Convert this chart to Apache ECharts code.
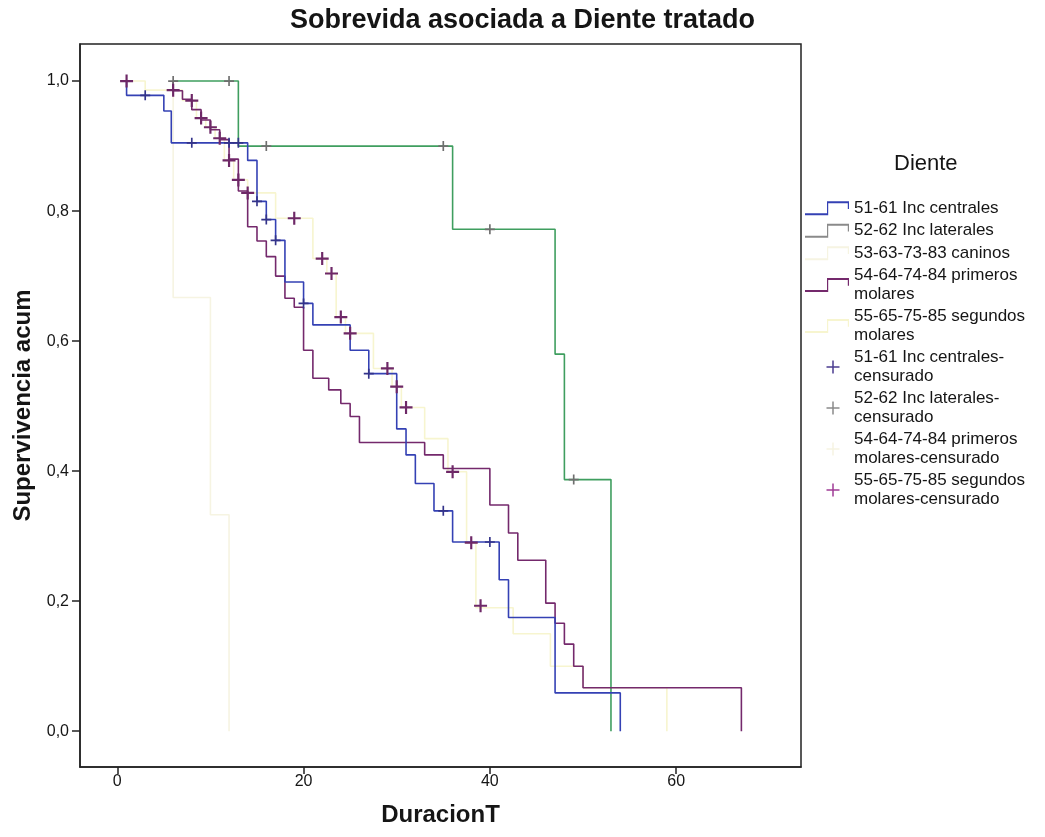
<!DOCTYPE html>
<html><head><meta charset="utf-8">
<script src="https://cdn.jsdelivr.net/npm/echarts@6/dist/echarts.min.js"></script>
<style>html,body{margin:0;padding:0;background:#fff}#c{width:1045px;height:837px}</style>
</head><body><div id="c"></div>
<script>
// ---- tick labels ----
const xTicks = [0, 20, 40, 60];
const yTicks = [0, 0.2, 0.4, 0.6, 0.8, 1.0];

// ---- 51-61 Inc centrales ----
const centralesTime = [1, 1, 5, 5.8, 14, 15, 16, 17, 18, 20, 21, 25, 27, 30, 31, 32, 34, 36, 41, 42, 47, 54];
const centralesSurv = [1.0, 0.978, 0.954, 0.905, 0.878, 0.815, 0.787, 0.755, 0.691, 0.658, 0.625, 0.586, 0.55, 0.465, 0.425, 0.381, 0.339, 0.291, 0.233, 0.175, 0.059, 0];
const centralesCensTime = [3, 8, 12, 13, 15, 16, 17, 20, 27, 35, 40];
const centralesCensSurv = [0.978, 0.905, 0.905, 0.905, 0.815, 0.787, 0.755, 0.658, 0.55, 0.339, 0.291];

// ---- 52-62 Inc laterales ----
const lateralesTime = [6, 13, 36, 47, 48, 53];
const lateralesSurv = [1.0, 0.9, 0.772, 0.58, 0.387, 0];
const lateralesCensTime = [6, 12, 16, 35, 40, 49];
const lateralesCensSurv = [1.0, 1.0, 0.9, 0.9, 0.772, 0.387];

// ---- 53-63-73-83 caninos ----
const caninosTime = [6, 6, 10, 12];
const caninosSurv = [1.0, 0.667, 0.333, 0];

// ---- 54-64-74-84 primeros molares ----
const primerosTime = [6, 6, 7, 8, 9, 10, 11, 12, 13, 14, 15, 16, 17, 18, 19, 20, 21, 22.7, 24, 25, 26, 33, 35, 40, 42, 43, 46, 47, 48, 49, 50, 67];
const primerosSurv = [1.0, 0.985, 0.972, 0.956, 0.94, 0.925, 0.91, 0.88, 0.831, 0.776, 0.754, 0.73, 0.70, 0.666, 0.652, 0.586, 0.543, 0.525, 0.504, 0.484, 0.444, 0.425, 0.404, 0.348, 0.305, 0.263, 0.197, 0.166, 0.134, 0.10, 0.067, 0];
const primerosCensTime = [];
const primerosCensSurv = [];

// ---- 55-65-75-85 segundos molares ----
const segundosTime = [1, 3, 7, 8.5, 9.5, 10.5, 11.5, 12.5, 14, 17, 21, 22.5, 23.5, 24.5, 27.5, 29.5, 30.5, 33, 35.5, 37.5, 38.5, 42.5, 46.5, 50, 59];
const segundosSurv = [1.0, 0.986, 0.970, 0.943, 0.929, 0.912, 0.878, 0.848, 0.828, 0.789, 0.727, 0.704, 0.637, 0.612, 0.558, 0.53, 0.498, 0.45, 0.399, 0.29, 0.19, 0.15, 0.1, 0.067, 0];
const segundosCensTime = [1, 6, 8, 9, 10, 11, 12, 13, 14, 19, 22, 23, 24, 25, 29, 30, 31, 36, 38, 39];
const segundosCensSurv = [1.0, 0.986, 0.970, 0.943, 0.929, 0.912, 0.878, 0.848, 0.828, 0.789, 0.727, 0.704, 0.637, 0.612, 0.558, 0.53, 0.498, 0.399, 0.29, 0.193];

const zip = (a, b) => a.map((v, i) => [v, b[i]]);
const FONT = '"Liberation Sans", Arial, Helvetica, sans-serif';
const PLUS = 'path://M0,5H12V7H0ZM5,0H7V12H5Z';
const STEP_ICON = 'path://M0,9.4H22V2.4H44V7H42.8V3.6H23.2V10.6H0Z';
const PLUS_ICON = 'path://M0,0M44,14M21.5,6.25H34.5V7.75H21.5ZM27.25,0.5H28.75V13.5H27.25Z';

const C_BLUE = '#3441b4', C_GREEN = '#3f9e5f', C_BEIGE = '#f6f4e2', C_PURPLE = '#74296c', C_YELLOW = '#f7f5cf';
const TXT = '#151515';

const names = {
  cen: '51-61 Inc centrales',
  lat: '52-62 Inc laterales',
  can: '53-63-73-83 caninos',
  pri: '54-64-74-84 primeros\nmolares',
  seg: '55-65-75-85 segundos\nmolares',
  cenC: '51-61 Inc centrales-\ncensurado',
  latC: '52-62 Inc laterales-\ncensurado',
  priC: '54-64-74-84 primeros\nmolares-censurado',
  segC: '55-65-75-85 segundos\nmolares-censurado'
};

function lineSeries(name, t, s, color, z) {
  return { name, type: 'line', step: 'end', showSymbol: false, symbol: 'none',
    data: zip(t, s), lineStyle: { color, width: 1.6 }, itemStyle: { color }, z, animation: false };
}
function censSeries(name, t, s, color, size) {
  return { name, type: 'scatter', symbol: PLUS, symbolSize: size,
    data: zip(t, s), itemStyle: { color, opacity: 1 }, z: 10, animation: false };
}

const chart = echarts.init(document.getElementById('c'), null, { renderer: 'canvas' });
chart.setOption({
  animation: false,
  backgroundColor: '#fff',
  title: { text: 'Sobrevida asociada a Diente tratado', left: 'center', top: 2,
    textStyle: { fontSize: 27, fontWeight: 'bold', color: TXT, fontFamily: FONT } },
  graphic: [{ type: 'text', left: 894, top: 153,
    style: { text: 'Diente', fontSize: 22, fill: TXT, fontFamily: FONT } }],
  legend: {
    orient: 'vertical', left: 800, top: 194, itemWidth: 44, itemHeight: 14, itemGap: 4,
    symbolKeepAspect: false,
    textStyle: { fontSize: 17, lineHeight: 18.5, color: TXT, fontFamily: FONT },
    data: [
      { name: names.cen, icon: STEP_ICON, itemStyle: { color: C_BLUE } },
      { name: names.lat, icon: STEP_ICON, itemStyle: { color: '#8a8a8a' } },
      { name: names.can, icon: STEP_ICON, itemStyle: { color: C_BEIGE } },
      { name: names.pri, icon: STEP_ICON, itemStyle: { color: C_PURPLE } },
      { name: names.seg, icon: STEP_ICON, itemStyle: { color: C_YELLOW } },
      { name: names.cenC, icon: PLUS_ICON, itemStyle: { color: '#4b3d90', opacity: 1 } },
      { name: names.latC, icon: PLUS_ICON, itemStyle: { color: '#8a8a8a', opacity: 1 } },
      { name: names.priC, icon: PLUS_ICON, itemStyle: { color: C_BEIGE, opacity: 1 } },
      { name: names.segC, icon: PLUS_ICON, itemStyle: { color: '#a03c96', opacity: 1 } }
    ]
  },
  grid: { left: 80, right: 244, top: 44, bottom: 70, show: true, borderColor: '#222', borderWidth: 1.5 },
  xAxis: {
    type: 'value', min: -4, max: 73.4,
    name: 'DuracionT', nameLocation: 'middle', nameGap: 36,
    nameTextStyle: { fontSize: 24, fontWeight: 'bold', color: TXT, fontFamily: FONT },
    axisLine: { show: true, onZero: false, lineStyle: { color: '#222', width: 1.5 } },
    axisTick: { show: true, length: 7, customValues: xTicks, lineStyle: { color: '#222', width: 1.5 } },
    axisLabel: { customValues: xTicks, fontSize: 16, color: TXT, margin: 7, fontFamily: FONT },
    splitLine: { show: false }
  },
  yAxis: {
    type: 'value', min: -0.055, max: 1.057,
    name: 'Supervivencia acum', nameLocation: 'middle', nameGap: 43,
    nameTextStyle: { fontSize: 24, fontWeight: 'bold', color: TXT, fontFamily: FONT },
    axisLine: { show: true, onZero: false, lineStyle: { color: '#222', width: 1.5 } },
    axisTick: { show: true, length: 8, customValues: yTicks, lineStyle: { color: '#222', width: 1.5 } },
    axisLabel: { customValues: yTicks, fontSize: 16, color: TXT, margin: 11, fontFamily: FONT,
      formatter: v => v.toFixed(1).replace('.', ',') },
    splitLine: { show: false }
  },
  series: [
    lineSeries(names.cen, centralesTime, centralesSurv, C_BLUE, 4),
    lineSeries(names.lat, lateralesTime, lateralesSurv, C_GREEN, 3),
    lineSeries(names.can, caninosTime, caninosSurv, C_BEIGE, 1),
    lineSeries(names.pri, primerosTime, primerosSurv, C_PURPLE, 3),
    lineSeries(names.seg, segundosTime, segundosSurv, C_YELLOW, 2),
    censSeries(names.cenC, centralesCensTime, centralesCensSurv, '#33338a', 10),
    censSeries(names.latC, lateralesCensTime, lateralesCensSurv, '#6f6f6f', 10),
    censSeries(names.priC, primerosCensTime, primerosCensSurv, C_BEIGE, 11),
    censSeries(names.segC, segundosCensTime, segundosCensSurv, '#6e2867', 13)
  ]
});
</script></body></html>
